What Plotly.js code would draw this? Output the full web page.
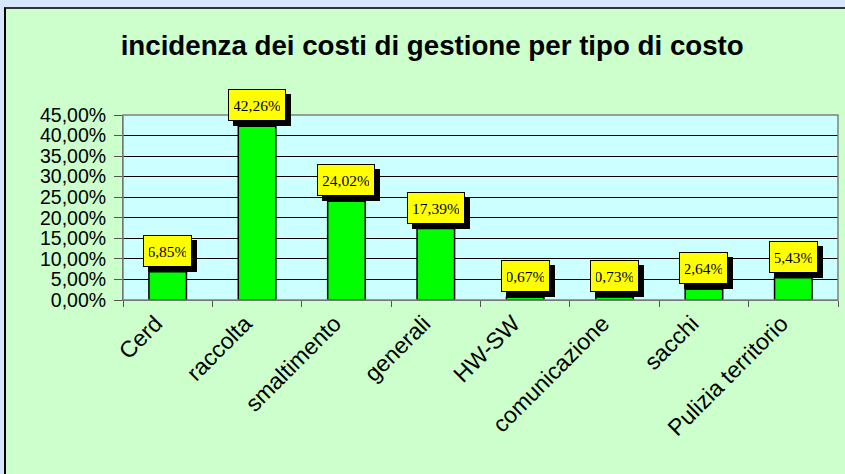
<!DOCTYPE html>
<html>
<head>
<meta charset="utf-8">
<script src="https://cdn.plot.ly/plotly-3.0.1.min.js"></script>
<style>
  html, body { margin: 0; padding: 0; width: 845px; height: 474px; overflow: hidden;
    background: #d6e6fb; }
  #wrap { position: absolute; left: 4px; top: 7px; width: 841px; height: 467px;
    border-left: 2px solid #000; border-top: 2px solid #333; background: #ccffcc; }
  #chart { width: 839px; height: 465px; }
</style>
</head>
<body>
<div id="wrap"><div id="chart"></div></div>
<script>
const categories = ["Cerd", "raccolta", "smaltimento", "generali", "HW-SW", "comunicazione", "sacchi", "Pulizia territorio"];
const values = [6.85, 42.26, 24.02, 17.39, 0.67, 0.73, 2.64, 5.43];
const labels = ["6,85%", "42,26%", "24,02%", "17,39%", "0,67%", "0,73%", "2,64%", "5,43%"];
const chartTitle = "incidenza dei costi di gestione per tipo di costo";

const labelFont = { family: "Liberation Serif, Times New Roman, serif", size: 15.5, color: "#000" };
const annotations = [];
function boxW(t) { return t.length >= 6 ? 46 : 37; }
// shadows
categories.forEach((c, i) => {
  annotations.push({
    x: c, y: values[i], xref: "x", yref: "y", text: "\u00a0",
    showarrow: false, yanchor: "bottom", xanchor: "center",
    xshift: 5, yshift: 0, width: boxW(labels[i]), height: 20,
    font: labelFont,
    bgcolor: "#000", bordercolor: "#000", borderwidth: 1, borderpad: 5
  });
});
// yellow label boxes
categories.forEach((c, i) => {
  annotations.push({
    x: c, y: values[i], xref: "x", yref: "y", text: labels[i],
    showarrow: false, yanchor: "bottom", xanchor: "center",
    yshift: 5, width: boxW(labels[i]), height: 20,
    font: labelFont,
    bgcolor: "#ffff00", bordercolor: "#000", borderwidth: 1, borderpad: 5
  });
});

const trace = {
  type: "bar", x: categories, y: values, width: 0.42,
  marker: { color: "#00ff00", line: { color: "#000", width: 1.5 } },
  hoverinfo: "skip"
};

const layout = {
  width: 839, height: 465,
  margin: { l: 117, r: 7, t: 106, b: 174 },
  paper_bgcolor: "#ccffcc", plot_bgcolor: "#ccffff",
  separators: ",.",
  showlegend: false,
  title: { text: chartTitle, x: 0.508, xanchor: "center", xref: "container",
    y: 1 - 36 / 465, yanchor: "middle", yref: "container",
    font: { family: "Liberation Sans, Arial, sans-serif", size: 27.7, color: "#000", weight: "bold" } },
  xaxis: {
    type: "category", tickangle: -45, tickson: "boundaries",
    ticks: "outside", ticklen: 6, tickcolor: "#555", ticklabelshift: -12,
    showline: true, linecolor: "#555", linewidth: 1,
    showgrid: false,
    tickfont: { family: "Liberation Sans, Arial, sans-serif", size: 23, color: "#000" }
  },
  yaxis: {
    range: [0, 45], dtick: 5, tick0: 0, tickformat: ".2f", ticksuffix: "%",
    ticks: "outside", ticklen: 8, tickcolor: "#555", ticklabelstandoff: 4,
    showline: true, linecolor: "#555", linewidth: 1,
    showgrid: true, gridcolor: "#000", gridwidth: 1, zeroline: false,
    tickfont: { family: "Liberation Sans, Arial, sans-serif", size: 19.5, color: "#000" }
  },
  shapes: [{ type: "rect", xref: "paper", yref: "paper", x0: 0, x1: 1, y0: 0, y1: 1,
    line: { color: "#808080", width: 1.5 }, layer: "above" }],
  annotations: annotations
};

Plotly.newPlot("chart", [trace], layout, { displayModeBar: false, staticPlot: true });
</script>
</body>
</html>
